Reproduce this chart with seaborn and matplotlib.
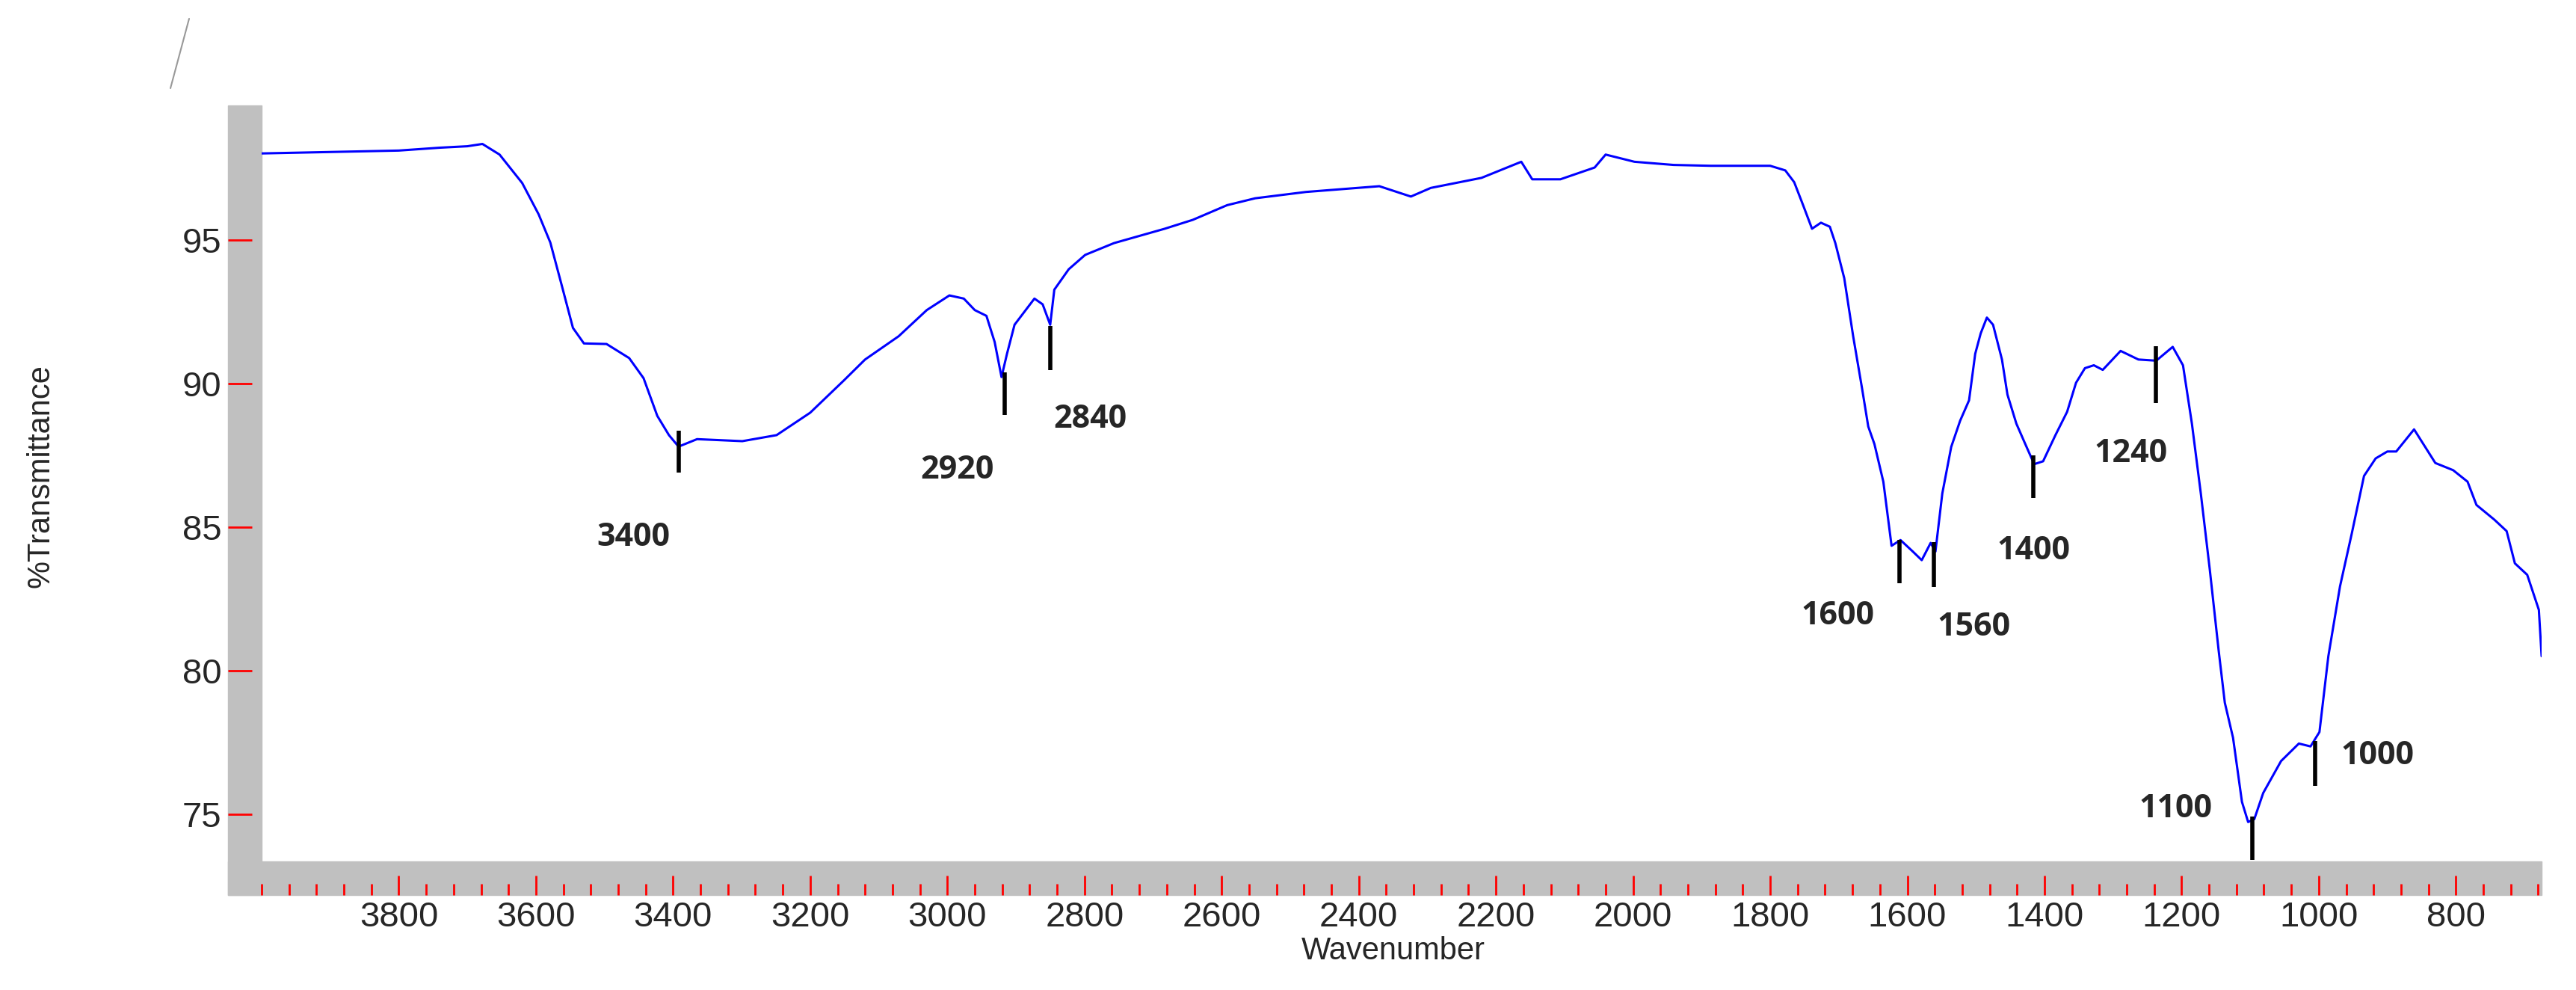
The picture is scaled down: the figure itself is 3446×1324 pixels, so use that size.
import matplotlib
matplotlib.use("Agg")
import matplotlib.pyplot as plt
import numpy as np
import pandas as pd
import seaborn as sns
from matplotlib.patches import Rectangle
from matplotlib.lines import Line2D
from matplotlib.ticker import MultipleLocator

# ---- spectrum ----
wavenumber = [4000, 3900, 3800, 3740, 3700, 3678, 3653, 3620, 3596, 3579, 3563, 3546, 3530, 3497,
              3464, 3443, 3423, 3406, 3392, 3365, 3299, 3249, 3200, 3151, 3120, 3071, 3030,
              2997, 2976, 2960, 2943, 2931, 2921, 2913, 2902, 2873, 2861, 2850, 2844, 2823,
              2799, 2757, 2683, 2642, 2592, 2551, 2477, 2370, 2324, 2295, 2221, 2163, 2147,
              2106, 2056, 2040, 1998, 1941, 1887, 1800, 1778, 1765, 1752, 1739, 1726, 1713,
              1705, 1692, 1679, 1666, 1657, 1648, 1635, 1623, 1610, 1592, 1579, 1566, 1559,
              1549, 1536, 1523, 1510, 1501, 1493, 1484, 1475, 1462, 1454, 1441, 1428, 1415,
              1402, 1384, 1367, 1354, 1341, 1328, 1315, 1289, 1263, 1237, 1213, 1198, 1185,
              1172, 1159, 1146, 1137, 1125, 1112, 1103, 1094, 1081, 1055, 1029, 1012, 999,
              986, 969, 952, 934, 917, 900, 887, 861, 830, 804, 783, 770, 744, 726, 714, 696,
              679, 675]
transmittance = [98.0, 98.05, 98.1, 98.2, 98.25, 98.33, 97.96, 96.97, 95.88, 94.9, 93.47, 91.93,
                 91.39, 91.37, 90.88, 90.18, 88.87, 88.2, 87.8, 88.06, 87.99, 88.2, 88.98, 90.1,
                 90.83, 91.64, 92.55, 93.06, 92.95, 92.55, 92.35, 91.44, 90.22, 91.03, 92.04,
                 92.95, 92.75, 92.04, 93.26, 93.97, 94.47, 94.88, 95.38, 95.69, 96.2, 96.44,
                 96.66, 96.86, 96.5, 96.8, 97.15, 97.71, 97.1, 97.1, 97.51, 97.96, 97.71, 97.6,
                 97.57, 97.57, 97.41, 97.0, 96.2, 95.38, 95.59, 95.45, 94.88, 93.66, 91.64,
                 89.82, 88.5, 87.89, 86.58, 84.35, 84.55, 84.15, 83.85, 84.45, 84.15, 86.17,
                 87.79, 88.7, 89.41, 91.03, 91.74, 92.29, 92.04, 90.83, 89.61, 88.6, 87.89,
                 87.19, 87.29, 88.2, 89.01, 90.02, 90.53, 90.63, 90.47, 91.13, 90.83, 90.79,
                 91.27, 90.63, 88.6, 86.17, 83.54, 80.71, 78.89, 77.67, 75.44, 74.74, 74.84,
                 75.75, 76.86, 77.47, 77.37, 77.87, 80.51, 82.94, 84.76, 86.78, 87.39, 87.63,
                 87.63, 88.4, 87.23, 86.98, 86.58, 85.77, 85.26, 84.86, 83.74, 83.34, 82.12,
                 80.51]

# ---- peak marks: label, mark position, mark span, text position ----
peak_labels = ["3400", "2920", "2840", "1600", "1560", "1400", "1240", "1100", "1000"]
mark_x = [3392, 2916, 2850, 1611, 1561, 1416, 1237, 1097, 1005]
mark_top = [88.36, 90.38, 92.0, 84.55, 84.49, 87.49, 91.3, 74.94, 77.57]
mark_bottom = [86.89, 88.91, 90.46, 83.04, 82.93, 86.01, 89.31, 73.42, 76.01]
label_x = [3458, 2986, 2792, 1702, 1503, 1416, 1274, 1209, 914]
label_y = [84.66, 86.98, 88.76, 81.92, 81.52, 84.19, 87.55, 75.2, 77.06]

W, H = 3446, 1324
sns.set_style("white")
plt.rcParams["font.family"] = ["Liberation Sans", "DejaVu Sans"]

fig = plt.figure(figsize=(W / 100, H / 100), dpi=100)
L, R, T, B = 350, 3400, 141, 1152
ax = fig.add_axes([L / W, 1 - B / H, (R - L) / W, (B - T) / H])
ax.patch.set_alpha(0)

df = pd.DataFrame({"wn": wavenumber, "T": transmittance})
sns.lineplot(data=df, x="wn", y="T", ax=ax, color="#0000ff", linewidth=2.2, sort=False)

ax.vlines(mark_x, mark_bottom, mark_top, colors="black", linewidth=4, clip_on=False)
for lab, x, y in zip(peak_labels, label_x, label_y):
    ax.text(x, y, lab, ha="center", va="center", fontsize=31, fontweight="bold",
            family=["Open Sans", "DejaVu Sans"])

ax.set_xlim(4000, 675)
ax.set_ylim(73.37, 99.67)

# gray frame bands (drawn beneath the axes so the red ticks stay visible)
gray = "#c0c0c0"
fig.patches.append(Rectangle((305 / W, 1 - 1197 / H), (L - 305) / W, (1197 - T) / H,
                             transform=fig.transFigure, color=gray, zorder=-1))
fig.patches.append(Rectangle((305 / W, 1 - 1197 / H), (R - 305) / W, (1197 - B) / H,
                             transform=fig.transFigure, color=gray, zorder=-1))

for s in ax.spines.values():
    s.set_visible(False)
ax.spines["left"].set_position(("outward", 45 * 0.72))
ax.spines["bottom"].set_position(("outward", 45 * 0.72))

ax.set_yticks([75, 80, 85, 90, 95])
ax.xaxis.set_minor_locator(MultipleLocator(40))
xt = [v for v in range(800, 4000, 200)]
ax.set_xticks(xt)
ax.set_xticklabels([str(v) for v in xt])
ax.tick_params(axis="y", direction="in", length=23, width=2, color="red",
               labelsize=34, pad=6, left=True)
ax.tick_params(axis="x", which="major", direction="in", length=19, width=2, color="red",
               labelsize=34, pad=6, bottom=True)
ax.tick_params(axis="x", which="minor", direction="in", length=11, width=2, color="red",
               bottom=True)

ax.set_xlabel("")
ax.set_ylabel("")
fig.text(1864 / W, 1 - 1272 / H, "Wavenumber", ha="center", va="center", fontsize=30)
fig.text(55 / W, 1 - 637 / H, "%Transmittance", ha="center", va="center", fontsize=30,
         rotation=90)

fig.lines.append(Line2D([253 / W, 228 / W], [1 - 25 / H, 1 - 118 / H],
                        transform=fig.transFigure, color="#999999", linewidth=1.5))

fig.savefig("out.png", dpi=100)
